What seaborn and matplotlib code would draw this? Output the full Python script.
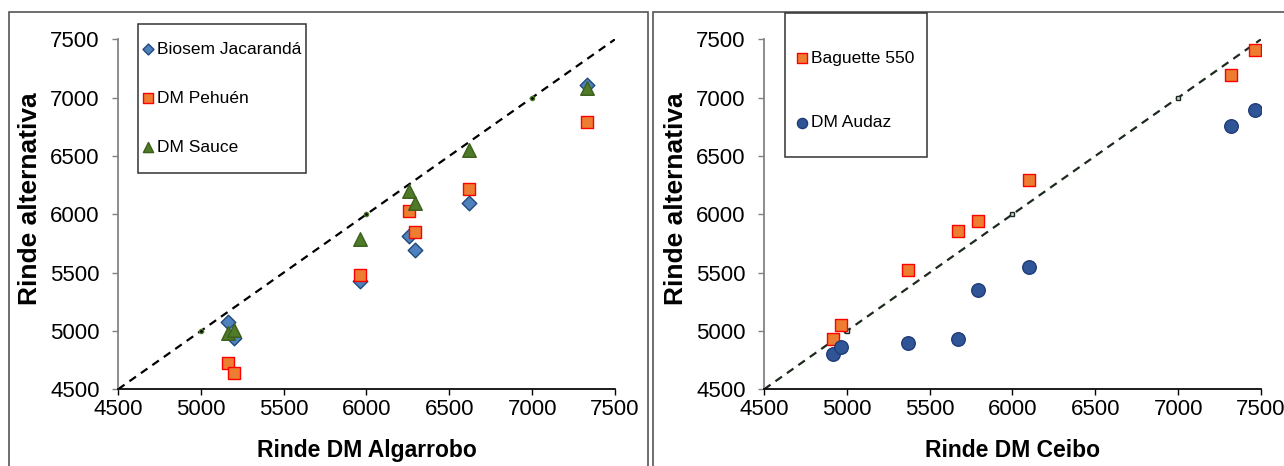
import matplotlib
matplotlib.use('Agg')
import matplotlib.pyplot as plt
from matplotlib.patches import Rectangle
import pandas as pd
import seaborn as sns

# Left panel: yields vs DM Algarrobo
algarrobo = [5162, 5202, 5961, 6259, 6293, 6620, 7330]
jacaranda = [5075, 4940, 5425, 5810, 5695, 6100, 7105]
pehuen = [4725, 4640, 5477, 6030, 5850, 6218, 6795]
sauce = [4985, 5008, 5790, 6198, 6098, 6555, 7085]

# Right panel: yields vs DM Ceibo
ceibo = [4917, 4967, 5370, 5671, 5790, 6098, 7319, 7464]
baguette = [4930, 5055, 5520, 5855, 5945, 6293, 7193, 7410]
audaz = [4800, 4860, 4900, 4930, 5348, 5545, 6760, 6890]

# 1:1 reference line
ref_line = [4500, 5000, 6000, 7000, 7500]
ticks = [4500, 5000, 5500, 6000, 6500, 7000, 7500]

sns.set_theme(style='white')
plt.rcParams['font.family'] = ['Liberation Sans', 'DejaVu Sans']
plt.rcParams['text.color'] = 'black'
plt.rcParams['axes.labelcolor'] = 'black'

W, H = 1284, 466
fig = plt.figure(figsize=(W / 100, H / 100), dpi=100)


def fx(px):
    return px / W


def fy(py):
    return 1 - py / H


ax1 = fig.add_axes([fx(118), fy(389.3), fx(615) - fx(118), fy(39.3) - fy(389.3)])
ax2 = fig.add_axes([fx(764), fy(389.3), fx(1261) - fx(764), fy(39.3) - fy(389.3)])

# panel frames
fig.add_artist(Rectangle((fx(9), fy(475)), fx(648) - fx(9), fy(12) - fy(475),
                         transform=fig.transFigure, fill=False, ec='#555555', lw=1.2))
fig.add_artist(Rectangle((fx(653), fy(475)), fx(1290) - fx(653), fy(12) - fy(475),
                         transform=fig.transFigure, fill=False, ec='#555555', lw=1.2))

left_df = pd.DataFrame({'x': algarrobo * 3,
                        'y': jacaranda + pehuen + sauce,
                        'serie': ['Biosem Jacarandá'] * 7 + ['DM Pehuén'] * 7 + ['DM Sauce'] * 7})
right_df = pd.DataFrame({'x': ceibo * 2,
                         'y': baguette + audaz,
                         'serie': ['Baguette 550'] * 8 + ['DM Audaz'] * 8})

# reference lines
ax1.plot(ref_line, ref_line, color='black', lw=1.6, ls=(0, (3.6, 2.7)),
         marker='o', ms=3, mfc='black', mec='#4f7a28', markevery=[1, 2, 3], zorder=1)
ax2.plot(ref_line, ref_line, color='#1e2a1e', lw=1.6, ls=(0, (3.6, 2.7)),
         marker='s', ms=3, mfc='#c8d8e8', mec='#1e2a1e', markevery=[1, 2, 3], zorder=1)

styles_left = {
    'Biosem Jacarandá': dict(marker='D', s=55, color='#4f81bd', edgecolor='#1f497d'),
    'DM Pehuén': dict(marker='s', s=85, color='#ed7d31', edgecolor='#ff0000'),
    'DM Sauce': dict(marker='^', s=95, color='#4f7a28', edgecolor='#3b5f1c'),
}
for name, st in styles_left.items():
    sns.scatterplot(data=left_df[left_df['serie'] == name], x='x', y='y', ax=ax1,
                    label=name, linewidth=1, zorder=3, **st)

styles_right = {
    'Baguette 550': dict(marker='s', s=85, color='#ed7d31', edgecolor='#ff0000'),
    'DM Audaz': dict(marker='o', s=95, color='#2f5597', edgecolor='#1f3c78'),
}
for name, st in styles_right.items():
    sns.scatterplot(data=right_df[right_df['serie'] == name], x='x', y='y', ax=ax2,
                    label=name, linewidth=1, zorder=3, **st)

for ax, xl in [(ax1, 'Rinde DM Algarrobo'), (ax2, 'Rinde DM Ceibo')]:
    ax.set_xlim(4500, 7500)
    ax.set_ylim(4500, 7500)
    ax.set_xticks(ticks)
    ax.set_yticks(ticks)
    ax.spines['top'].set_visible(False)
    ax.spines['right'].set_visible(False)
    ax.spines['left'].set_color('#808080')
    ax.spines['bottom'].set_color('black')
    ax.tick_params(axis='y', direction='out', length=4.3, width=1, color='#808080',
                   labelcolor='black', pad=9, labelsize=16, left=True)
    ax.tick_params(axis='x', direction='out', length=4, width=1, color='black',
                   labelcolor='black', pad=3, labelsize=16, bottom=True)
    ax.set_xlabel(xl, fontsize=16.5, fontweight='bold', labelpad=14)
    ax.set_ylabel('Rinde alternativa', fontsize=19, fontweight='bold')
    ax.yaxis.set_label_coords(-0.153, 0.545)
    ax.patch.set_alpha(0)

# legends with hand-sized boxes
leg1 = ax1.legend(loc='upper left', bbox_to_anchor=(fx(134), fy(33)),
                  bbox_transform=fig.transFigure, frameon=False, fontsize=12.5,
                  handlelength=0.6, handletextpad=0.25, labelspacing=1.95,
                  borderpad=0, markerscale=0.75)
fig.add_artist(Rectangle((fx(138), fy(173)), fx(306) - fx(138), fy(24) - fy(173),
                         transform=fig.transFigure, fill=False, ec='#333333', lw=1.1))

leg2 = ax2.legend(loc='upper left', bbox_to_anchor=(fx(788), fy(42)),
                  bbox_transform=fig.transFigure, frameon=False, fontsize=12.5,
                  handlelength=0.6, handletextpad=0.25, labelspacing=2.85,
                  borderpad=0, markerscale=0.75)
fig.add_artist(Rectangle((fx(785), fy(157)), fx(927) - fx(785), fy(13) - fy(157),
                         transform=fig.transFigure, fill=False, ec='#333333', lw=1.1))

fig.savefig('out.png', dpi=100)
